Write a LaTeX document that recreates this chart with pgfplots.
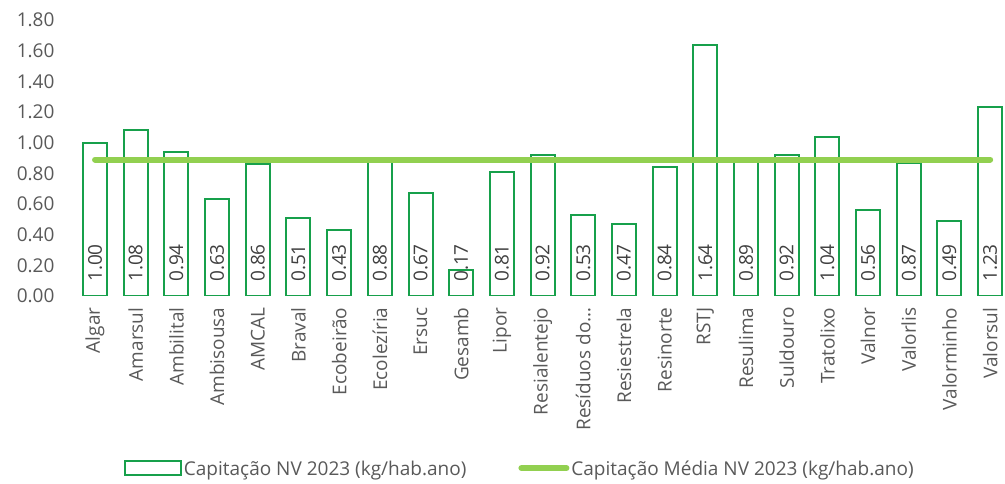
\documentclass[border=0pt]{standalone}
\usepackage{fontspec}
\setmainfont{Open Sans}
\usepackage{pgfplots}
\pgfplotsset{compat=1.18}
\definecolor{barg}{HTML}{17A04B}
\definecolor{lineg}{HTML}{92D050}
\definecolor{tickc}{HTML}{595959}
\definecolor{valc}{HTML}{404040}
\newcommand{\f}{\fontsize{19}{23}\selectfont}
\pgfplotsset{
    barleg/.style={legend image code/.code={\draw[##1] (0pt,-6pt) rectangle (56pt,8pt);}},
    lineleg/.style={legend image code/.code={\draw[##1] (0pt,1pt) -- (45pt,1pt);}},
}
\begin{document}
\begin{tikzpicture}
\useasboundingbox (-80pt,-188pt) rectangle (925pt,296pt);
\begin{axis}[
    scale only axis,
    width=924pt, height=276pt,
    xmin=-0.37, xmax=22.34,
    ymin=0, ymax=1.8,
    axis line style={draw=none},
    tick style={draw=none},
    ytick={0,0.2,0.4,0.6,0.8,1.0,1.2,1.4,1.6,1.8},
    yticklabel style={/pgf/number format/.cd, fixed, fixed zerofill, precision=2, assume math mode=true, /tikz/.cd, font=\f, color=tickc},
    yticklabel shift=22pt,
    xtick={0,...,22},
    xticklabels={Algar,Amarsul,Ambilital,Ambisousa,AMCAL,Braval,Ecobeirão,Ecolezíria,Ersuc,Gesamb,Lipor,Resialentejo,Resíduos do…,Resiestrela,Resinorte,RSTJ,Resulima,Suldouro,Tratolixo,Valnor,Valorlis,Valorminho,Valorsul},
    x tick label style={rotate=90, anchor=east, font=\f, color=tickc},
    xticklabel shift=8pt,
    legend columns=2,
    legend style={at={(0.476,-0.627)}, anchor=center, draw=none, font=\f, text=tickc,
        /tikz/every even column/.append style={column sep=50pt}},
]
\addplot[ybar, bar width=24pt, draw=barg, fill=white, line width=2pt, barleg]
    coordinates {(0,1.00) (1,1.08) (2,0.94) (3,0.63) (4,0.86) (5,0.51) (6,0.43) (7,0.88) (8,0.67) (9,0.17) (10,0.81) (11,0.92) (12,0.53) (13,0.47) (14,0.84) (15,1.64) (16,0.89) (17,0.92) (18,1.04) (19,0.56) (20,0.87) (21,0.49) (22,1.23)};
\addlegendentry{Capitação NV 2023 (kg/hab.ano)}
\addplot[lineg, line width=6pt, line cap=round, lineleg]
    coordinates {(0,0.89) (22,0.89)};
\addlegendentry{Capitação Média NV 2023 (kg/hab.ano)}
\addplot[draw=none, mark=none, forget plot, nodes near coords, point meta=explicit symbolic,
    every node near coord/.append style={anchor=west, rotate=90, xshift=14pt, inner sep=0pt, font=\f, color=valc}]
    coordinates {(0,0) [1.00] (1,0) [1.08] (2,0) [0.94] (3,0) [0.63] (4,0) [0.86] (5,0) [0.51] (6,0) [0.43] (7,0) [0.88] (8,0) [0.67] (9,0) [0.17] (10,0) [0.81] (11,0) [0.92] (12,0) [0.53] (13,0) [0.47] (14,0) [0.84] (15,0) [1.64] (16,0) [0.89] (17,0) [0.92] (18,0) [1.04] (19,0) [0.56] (20,0) [0.87] (21,0) [0.49] (22,0) [1.23]};
\end{axis}
\end{tikzpicture}
\end{document}
